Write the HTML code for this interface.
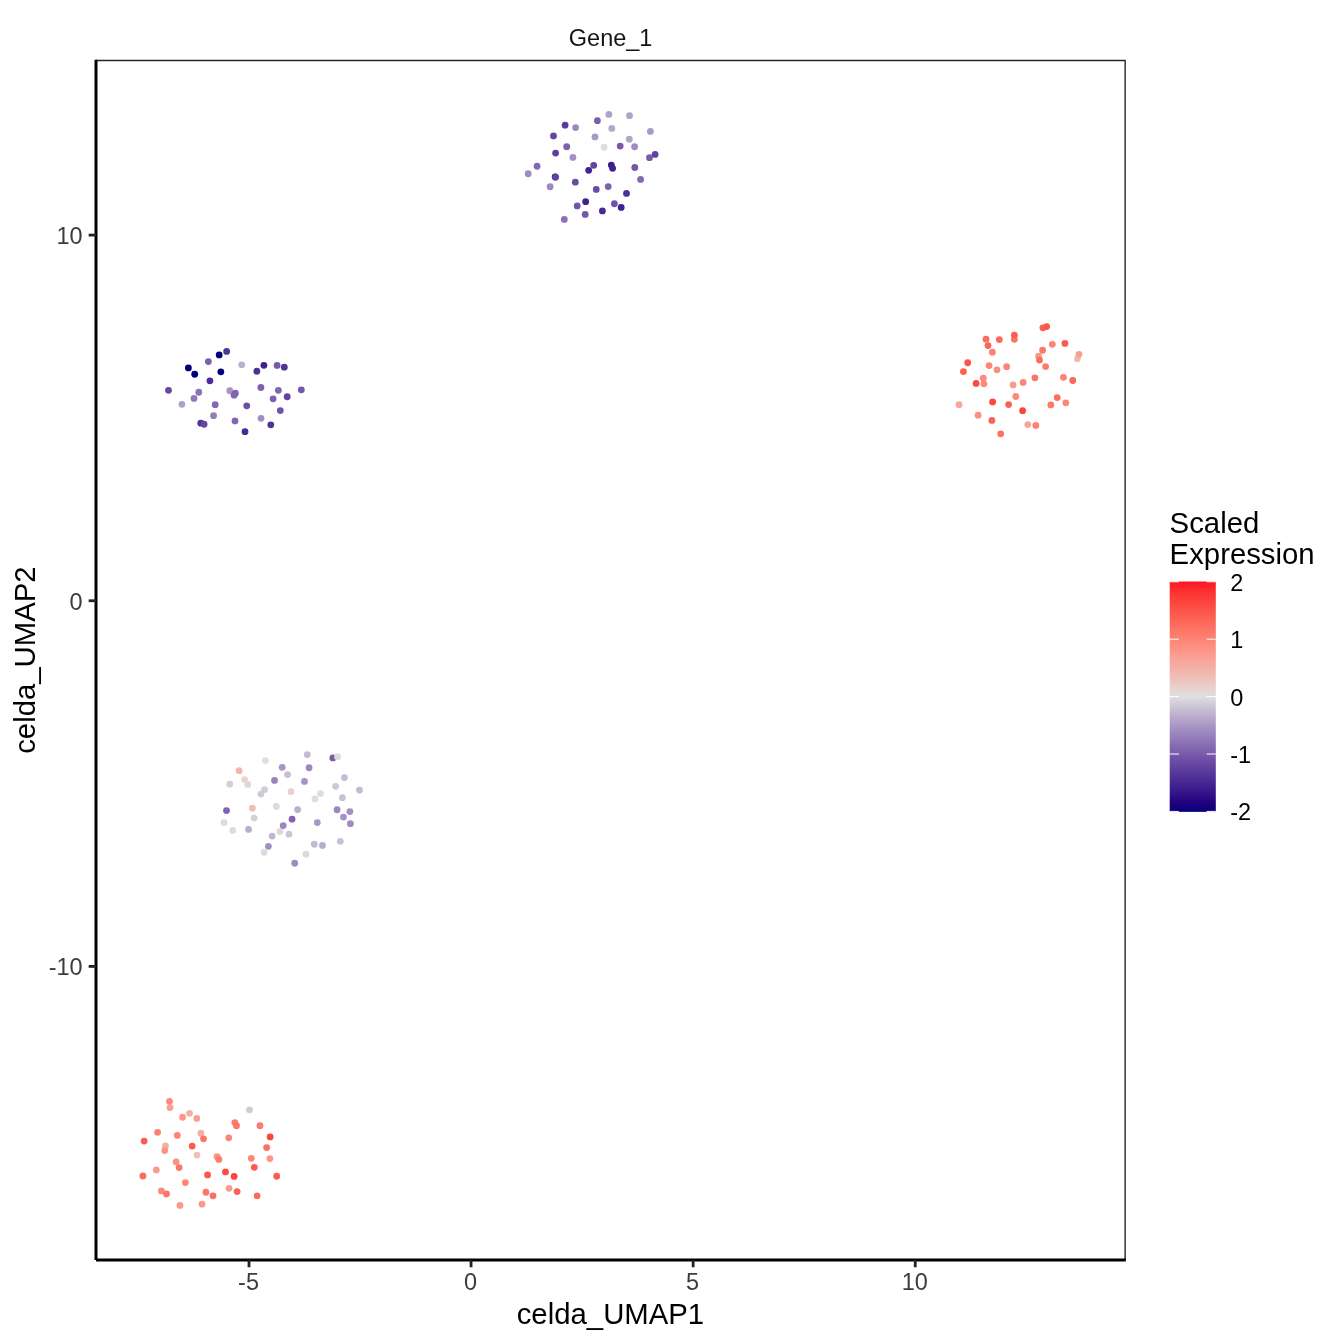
<!DOCTYPE html>
<html><head><meta charset="utf-8"><title>Gene_1</title>
<style>
html,body{margin:0;padding:0;background:#fff;overflow:hidden;width:1344px;height:1344px;}
svg{display:block;will-change:transform;}
text{font-family:"Liberation Sans",sans-serif;}
</style></head>
<body>
<svg width="1344" height="1344" viewBox="0 0 1344 1344">
<rect x="0" y="0" width="1344" height="1344" fill="#ffffff"/>
<defs>
<linearGradient id="cb" x1="0" y1="0" x2="0" y2="1">
<stop offset="0.0000" stop-color="#FC1425"/>
<stop offset="0.0125" stop-color="#FC1D28"/>
<stop offset="0.0250" stop-color="#FC262C"/>
<stop offset="0.0375" stop-color="#FC2C2F"/>
<stop offset="0.0500" stop-color="#FC3433"/>
<stop offset="0.0625" stop-color="#FC3A36"/>
<stop offset="0.0750" stop-color="#FC3F3A"/>
<stop offset="0.0875" stop-color="#FC443E"/>
<stop offset="0.1000" stop-color="#FC4A41"/>
<stop offset="0.1125" stop-color="#FC5045"/>
<stop offset="0.1250" stop-color="#FC5449"/>
<stop offset="0.1375" stop-color="#FC594D"/>
<stop offset="0.1500" stop-color="#FC5E51"/>
<stop offset="0.1625" stop-color="#FC6256"/>
<stop offset="0.1750" stop-color="#FC6859"/>
<stop offset="0.1875" stop-color="#FC6C5E"/>
<stop offset="0.2000" stop-color="#FC7162"/>
<stop offset="0.2125" stop-color="#FC7666"/>
<stop offset="0.2250" stop-color="#FC7A6B"/>
<stop offset="0.2375" stop-color="#FD7F6F"/>
<stop offset="0.2500" stop-color="#FD8374"/>
<stop offset="0.2625" stop-color="#FD8879"/>
<stop offset="0.2750" stop-color="#FD8C7E"/>
<stop offset="0.2875" stop-color="#FC9183"/>
<stop offset="0.3000" stop-color="#FA9587"/>
<stop offset="0.3125" stop-color="#FA9A8D"/>
<stop offset="0.3250" stop-color="#F99F91"/>
<stop offset="0.3375" stop-color="#F8A397"/>
<stop offset="0.3500" stop-color="#F7A89C"/>
<stop offset="0.3625" stop-color="#F5ACA1"/>
<stop offset="0.3750" stop-color="#F3B0A6"/>
<stop offset="0.3875" stop-color="#F2B5AC"/>
<stop offset="0.4000" stop-color="#F0BAB2"/>
<stop offset="0.4125" stop-color="#EFBFB6"/>
<stop offset="0.4250" stop-color="#ECC2BC"/>
<stop offset="0.4375" stop-color="#EAC7C2"/>
<stop offset="0.4500" stop-color="#E9CCC8"/>
<stop offset="0.4625" stop-color="#E7D1CD"/>
<stop offset="0.4750" stop-color="#E4D6D3"/>
<stop offset="0.4875" stop-color="#E1DAD9"/>
<stop offset="0.5000" stop-color="#DFDFDF"/>
<stop offset="0.5125" stop-color="#DAD7DC"/>
<stop offset="0.5250" stop-color="#D4D0DA"/>
<stop offset="0.5375" stop-color="#CFC8D7"/>
<stop offset="0.5500" stop-color="#C9C1D5"/>
<stop offset="0.5625" stop-color="#C4BAD1"/>
<stop offset="0.5750" stop-color="#BFB3CF"/>
<stop offset="0.5875" stop-color="#B9ABCC"/>
<stop offset="0.6000" stop-color="#B5A4CA"/>
<stop offset="0.6125" stop-color="#AF9FC8"/>
<stop offset="0.6250" stop-color="#AA98C5"/>
<stop offset="0.6375" stop-color="#A491C2"/>
<stop offset="0.6500" stop-color="#A08ABF"/>
<stop offset="0.6625" stop-color="#9A84BD"/>
<stop offset="0.6750" stop-color="#967EBB"/>
<stop offset="0.6875" stop-color="#9077B8"/>
<stop offset="0.7000" stop-color="#8C72B5"/>
<stop offset="0.7125" stop-color="#866BB3"/>
<stop offset="0.7250" stop-color="#8165B0"/>
<stop offset="0.7375" stop-color="#7D60AE"/>
<stop offset="0.7500" stop-color="#775AAA"/>
<stop offset="0.7625" stop-color="#7255A8"/>
<stop offset="0.7750" stop-color="#6D4EA6"/>
<stop offset="0.7875" stop-color="#6949A4"/>
<stop offset="0.8000" stop-color="#6445A0"/>
<stop offset="0.8125" stop-color="#5F3F9E"/>
<stop offset="0.8250" stop-color="#5A3A9C"/>
<stop offset="0.8375" stop-color="#553598"/>
<stop offset="0.8500" stop-color="#4F3096"/>
<stop offset="0.8625" stop-color="#4B2B94"/>
<stop offset="0.8750" stop-color="#462791"/>
<stop offset="0.8875" stop-color="#41218E"/>
<stop offset="0.9000" stop-color="#3B1C8C"/>
<stop offset="0.9125" stop-color="#361789"/>
<stop offset="0.9250" stop-color="#311287"/>
<stop offset="0.9375" stop-color="#2B0C85"/>
<stop offset="0.9500" stop-color="#260581"/>
<stop offset="0.9625" stop-color="#1F007F"/>
<stop offset="0.9750" stop-color="#18007D"/>
<stop offset="0.9875" stop-color="#10007A"/>
<stop offset="1.0000" stop-color="#000078"/>
</linearGradient>
<clipPath id="pc"><rect x="96.00" y="59.78" width="1029.85" height="1200.14"/></clipPath>
</defs>
<text x="610.60" y="46" font-size="23.47" fill="#141414" text-anchor="middle">Gene_1</text>
<g id="pts">
<circle cx="565.10" cy="125.15" r="3.40" fill="#5A3A9C"/>
<circle cx="575.60" cy="127.55" r="3.40" fill="#9E88BE"/>
<circle cx="553.50" cy="135.95" r="3.40" fill="#6445A0"/>
<circle cx="566.70" cy="146.75" r="3.40" fill="#7D60AE"/>
<circle cx="555.60" cy="153.05" r="3.40" fill="#5F3F9E"/>
<circle cx="572.90" cy="157.45" r="3.40" fill="#A491C2"/>
<circle cx="537.10" cy="166.25" r="3.40" fill="#8469B1"/>
<circle cx="528.20" cy="173.75" r="3.40" fill="#A08ABF"/>
<circle cx="555.20" cy="176.85" r="3.40" fill="#1F007F"/>
<circle cx="555.50" cy="177.25" r="3.40" fill="#62429F"/>
<circle cx="588.70" cy="170.35" r="3.40" fill="#432491"/>
<circle cx="593.70" cy="165.35" r="3.40" fill="#62429F"/>
<circle cx="608.90" cy="114.45" r="3.40" fill="#B2A2C9"/>
<circle cx="629.50" cy="115.65" r="3.40" fill="#B2A2C9"/>
<circle cx="597.40" cy="120.65" r="3.40" fill="#7B5EAD"/>
<circle cx="611.80" cy="128.45" r="3.40" fill="#B6A8CB"/>
<circle cx="650.40" cy="131.40" r="3.40" fill="#AA98C5"/>
<circle cx="595.00" cy="136.95" r="3.40" fill="#AA98C5"/>
<circle cx="629.30" cy="139.25" r="3.40" fill="#B5A4CA"/>
<circle cx="604.10" cy="147.25" r="3.40" fill="#E0DCDB"/>
<circle cx="620.20" cy="146.10" r="3.40" fill="#7558A9"/>
<circle cx="634.60" cy="146.75" r="3.40" fill="#A08ABF"/>
<circle cx="649.50" cy="157.65" r="3.40" fill="#775AAA"/>
<circle cx="655.10" cy="154.45" r="3.40" fill="#62429F"/>
<circle cx="611.30" cy="165.05" r="3.40" fill="#3B1C8C"/>
<circle cx="612.60" cy="168.35" r="3.40" fill="#41218E"/>
<circle cx="634.80" cy="167.50" r="3.40" fill="#7457A9"/>
<circle cx="640.60" cy="179.45" r="3.40" fill="#8469B1"/>
<circle cx="550.10" cy="186.75" r="3.40" fill="#9E88BE"/>
<circle cx="575.30" cy="182.15" r="3.40" fill="#6B4CA5"/>
<circle cx="585.70" cy="201.65" r="3.40" fill="#41218E"/>
<circle cx="577.20" cy="205.95" r="3.40" fill="#7255A8"/>
<circle cx="585.20" cy="214.45" r="3.40" fill="#7558A9"/>
<circle cx="564.30" cy="219.45" r="3.40" fill="#8C72B5"/>
<circle cx="608.20" cy="186.55" r="3.40" fill="#7E62AF"/>
<circle cx="596.25" cy="189.45" r="3.40" fill="#6A4CA4"/>
<circle cx="626.50" cy="193.45" r="3.40" fill="#4F3096"/>
<circle cx="614.40" cy="203.75" r="3.40" fill="#7255A8"/>
<circle cx="621.20" cy="207.45" r="3.40" fill="#41218E"/>
<circle cx="602.40" cy="210.95" r="3.40" fill="#492993"/>
<circle cx="226.65" cy="351.45" r="3.40" fill="#513297"/>
<circle cx="219.20" cy="354.95" r="3.40" fill="#000078"/>
<circle cx="208.35" cy="361.60" r="3.40" fill="#7C5FAD"/>
<circle cx="241.70" cy="364.85" r="3.40" fill="#BCAFCE"/>
<circle cx="188.40" cy="367.95" r="3.40" fill="#000078"/>
<circle cx="194.70" cy="374.25" r="3.40" fill="#000078"/>
<circle cx="220.85" cy="371.85" r="3.40" fill="#000078"/>
<circle cx="209.90" cy="380.80" r="3.40" fill="#4D2D95"/>
<circle cx="256.85" cy="371.25" r="3.40" fill="#4F3096"/>
<circle cx="168.50" cy="390.35" r="3.40" fill="#6748A2"/>
<circle cx="198.80" cy="392.25" r="3.40" fill="#8C72B5"/>
<circle cx="194.00" cy="398.45" r="3.40" fill="#9178B8"/>
<circle cx="229.80" cy="390.75" r="3.40" fill="#A895C4"/>
<circle cx="234.10" cy="395.15" r="3.40" fill="#8165B0"/>
<circle cx="235.40" cy="393.15" r="3.40" fill="#8165B0"/>
<circle cx="181.90" cy="404.35" r="3.40" fill="#AF9FC8"/>
<circle cx="215.20" cy="404.65" r="3.40" fill="#8469B1"/>
<circle cx="246.75" cy="405.85" r="3.40" fill="#6D4EA6"/>
<circle cx="213.55" cy="415.65" r="3.40" fill="#957DBA"/>
<circle cx="235.00" cy="420.90" r="3.40" fill="#8267B0"/>
<circle cx="200.75" cy="423.15" r="3.40" fill="#533297"/>
<circle cx="204.10" cy="424.25" r="3.40" fill="#6445A0"/>
<circle cx="245.00" cy="431.65" r="3.40" fill="#4A2A93"/>
<circle cx="263.90" cy="365.35" r="3.40" fill="#3F1F8D"/>
<circle cx="277.10" cy="365.45" r="3.40" fill="#7558A9"/>
<circle cx="284.30" cy="367.15" r="3.40" fill="#533297"/>
<circle cx="260.90" cy="387.50" r="3.40" fill="#7D60AE"/>
<circle cx="278.35" cy="390.35" r="3.40" fill="#8267B0"/>
<circle cx="301.30" cy="389.85" r="3.40" fill="#7457A9"/>
<circle cx="287.20" cy="396.75" r="3.40" fill="#6445A0"/>
<circle cx="273.10" cy="398.80" r="3.40" fill="#7E61AE"/>
<circle cx="280.30" cy="410.55" r="3.40" fill="#7053A7"/>
<circle cx="261.00" cy="418.30" r="3.40" fill="#A28FC1"/>
<circle cx="270.80" cy="424.85" r="3.40" fill="#513297"/>
<circle cx="1042.90" cy="327.85" r="3.40" fill="#FC5E51"/>
<circle cx="1046.65" cy="326.55" r="3.40" fill="#FC564A"/>
<circle cx="1014.40" cy="339.35" r="3.40" fill="#FC7465"/>
<circle cx="1014.40" cy="335.15" r="3.40" fill="#FC5E51"/>
<circle cx="986.00" cy="339.20" r="3.40" fill="#FC6E5F"/>
<circle cx="988.00" cy="345.55" r="3.40" fill="#FC6657"/>
<circle cx="999.30" cy="339.55" r="3.40" fill="#FC695B"/>
<circle cx="992.40" cy="352.25" r="3.40" fill="#FD8374"/>
<circle cx="1042.60" cy="350.25" r="3.40" fill="#FC7A6B"/>
<circle cx="1038.60" cy="356.25" r="3.40" fill="#FA9587"/>
<circle cx="1039.50" cy="360.05" r="3.40" fill="#FC6E5F"/>
<circle cx="1045.60" cy="366.55" r="3.40" fill="#FC7D6E"/>
<circle cx="967.70" cy="362.75" r="3.40" fill="#FC564A"/>
<circle cx="963.40" cy="371.55" r="3.40" fill="#FC6054"/>
<circle cx="989.10" cy="365.55" r="3.40" fill="#FD8677"/>
<circle cx="997.00" cy="369.85" r="3.40" fill="#FD8D7F"/>
<circle cx="1006.60" cy="366.70" r="3.40" fill="#FD8374"/>
<circle cx="983.30" cy="378.25" r="3.40" fill="#FD8B7D"/>
<circle cx="983.90" cy="383.85" r="3.40" fill="#FD8A7C"/>
<circle cx="976.10" cy="383.40" r="3.40" fill="#FC4A41"/>
<circle cx="1034.90" cy="377.85" r="3.40" fill="#FC7667"/>
<circle cx="1023.15" cy="382.45" r="3.40" fill="#FD8779"/>
<circle cx="1013.10" cy="384.95" r="3.40" fill="#F99C90"/>
<circle cx="1015.80" cy="396.50" r="3.40" fill="#FD8A7B"/>
<circle cx="992.60" cy="401.95" r="3.40" fill="#FC483F"/>
<circle cx="1008.60" cy="404.55" r="3.40" fill="#FC6155"/>
<circle cx="959.00" cy="404.75" r="3.40" fill="#F7A69A"/>
<circle cx="1022.60" cy="410.70" r="3.40" fill="#FC433D"/>
<circle cx="978.10" cy="415.15" r="3.40" fill="#FB8F81"/>
<circle cx="991.90" cy="420.45" r="3.40" fill="#FC6155"/>
<circle cx="1052.30" cy="344.35" r="3.40" fill="#FD8475"/>
<circle cx="1064.95" cy="343.45" r="3.40" fill="#FC5A4E"/>
<circle cx="1077.40" cy="358.70" r="3.40" fill="#F0BAB2"/>
<circle cx="1079.00" cy="354.35" r="3.40" fill="#F99F91"/>
<circle cx="1063.40" cy="377.30" r="3.40" fill="#FD8172"/>
<circle cx="1072.80" cy="380.50" r="3.40" fill="#FC685A"/>
<circle cx="1057.20" cy="397.55" r="3.40" fill="#FC6E5F"/>
<circle cx="1065.80" cy="402.85" r="3.40" fill="#FD8779"/>
<circle cx="1050.80" cy="404.95" r="3.40" fill="#FC7A6B"/>
<circle cx="1027.80" cy="424.55" r="3.40" fill="#F7A69A"/>
<circle cx="1035.80" cy="425.45" r="3.40" fill="#FD8172"/>
<circle cx="1000.70" cy="433.85" r="3.40" fill="#FC7162"/>
<circle cx="307.25" cy="754.60" r="3.40" fill="#C4BAD1"/>
<circle cx="265.45" cy="760.55" r="3.40" fill="#E0DDDC"/>
<circle cx="282.20" cy="767.35" r="3.40" fill="#A895C4"/>
<circle cx="309.05" cy="767.75" r="3.40" fill="#9C87BE"/>
<circle cx="239.10" cy="770.65" r="3.40" fill="#F1B7AF"/>
<circle cx="287.55" cy="774.55" r="3.40" fill="#C8BFD4"/>
<circle cx="244.55" cy="779.55" r="3.40" fill="#E3D7D5"/>
<circle cx="247.80" cy="784.45" r="3.40" fill="#E3D6D4"/>
<circle cx="274.50" cy="780.45" r="3.40" fill="#9982BD"/>
<circle cx="304.50" cy="781.45" r="3.40" fill="#A793C3"/>
<circle cx="229.80" cy="784.15" r="3.40" fill="#D4D0DA"/>
<circle cx="264.60" cy="789.55" r="3.40" fill="#D1CBD7"/>
<circle cx="260.90" cy="794.05" r="3.40" fill="#CFC8D7"/>
<circle cx="291.00" cy="791.65" r="3.40" fill="#E6D2CF"/>
<circle cx="315.00" cy="798.95" r="3.40" fill="#E1DBDA"/>
<circle cx="276.30" cy="806.45" r="3.40" fill="#DBDADD"/>
<circle cx="252.40" cy="808.25" r="3.40" fill="#EFBFB6"/>
<circle cx="226.50" cy="810.55" r="3.40" fill="#7F63AF"/>
<circle cx="297.65" cy="809.55" r="3.40" fill="#BCAFCE"/>
<circle cx="254.10" cy="818.05" r="3.40" fill="#D2CFD9"/>
<circle cx="292.05" cy="819.20" r="3.40" fill="#8064AF"/>
<circle cx="224.00" cy="822.55" r="3.40" fill="#E1DAD9"/>
<circle cx="279.90" cy="831.40" r="3.40" fill="#E3D7D5"/>
<circle cx="283.20" cy="825.55" r="3.40" fill="#9C87BE"/>
<circle cx="232.80" cy="830.45" r="3.40" fill="#DCDCDD"/>
<circle cx="248.50" cy="829.45" r="3.40" fill="#BAADCC"/>
<circle cx="289.05" cy="834.15" r="3.40" fill="#CCC6D6"/>
<circle cx="272.10" cy="836.05" r="3.40" fill="#C2B7D1"/>
<circle cx="332.90" cy="757.95" r="3.40" fill="#775AAA"/>
<circle cx="337.50" cy="756.65" r="3.40" fill="#E1DAD9"/>
<circle cx="344.40" cy="777.55" r="3.40" fill="#C5BBD2"/>
<circle cx="335.60" cy="786.30" r="3.40" fill="#CEC7D6"/>
<circle cx="359.50" cy="790.05" r="3.40" fill="#C3B9D1"/>
<circle cx="320.50" cy="793.55" r="3.40" fill="#E1DBDA"/>
<circle cx="342.40" cy="797.65" r="3.40" fill="#C9C0D4"/>
<circle cx="337.05" cy="809.75" r="3.40" fill="#9C87BE"/>
<circle cx="349.90" cy="811.55" r="3.40" fill="#A390C2"/>
<circle cx="343.45" cy="817.10" r="3.40" fill="#A692C3"/>
<circle cx="350.40" cy="823.65" r="3.40" fill="#A18BC1"/>
<circle cx="317.30" cy="822.55" r="3.40" fill="#AA98C5"/>
<circle cx="340.35" cy="841.30" r="3.40" fill="#C8BFD4"/>
<circle cx="264.00" cy="852.35" r="3.40" fill="#DBDADD"/>
<circle cx="268.40" cy="846.35" r="3.40" fill="#A390C2"/>
<circle cx="314.30" cy="844.25" r="3.40" fill="#C3B9D1"/>
<circle cx="322.50" cy="845.45" r="3.40" fill="#B8AACC"/>
<circle cx="306.00" cy="854.15" r="3.40" fill="#DBDADD"/>
<circle cx="294.70" cy="863.25" r="3.40" fill="#9F89BF"/>
<circle cx="170.00" cy="1107.55" r="3.40" fill="#F8A093"/>
<circle cx="169.50" cy="1101.30" r="3.40" fill="#FD8A7C"/>
<circle cx="189.55" cy="1113.35" r="3.40" fill="#F3B0A6"/>
<circle cx="182.55" cy="1117.25" r="3.40" fill="#FA9788"/>
<circle cx="196.80" cy="1118.45" r="3.40" fill="#F99F91"/>
<circle cx="157.60" cy="1132.35" r="3.40" fill="#FD8172"/>
<circle cx="177.30" cy="1135.45" r="3.40" fill="#FD8374"/>
<circle cx="200.90" cy="1133.25" r="3.40" fill="#F3B0A6"/>
<circle cx="203.50" cy="1138.85" r="3.40" fill="#FC7666"/>
<circle cx="228.75" cy="1137.85" r="3.40" fill="#FD8676"/>
<circle cx="144.10" cy="1141.05" r="3.40" fill="#FC5B4F"/>
<circle cx="165.50" cy="1145.85" r="3.40" fill="#F3B0A6"/>
<circle cx="164.70" cy="1150.55" r="3.40" fill="#FC9384"/>
<circle cx="192.15" cy="1146.05" r="3.40" fill="#FC5C50"/>
<circle cx="197.00" cy="1155.10" r="3.40" fill="#EEC1BA"/>
<circle cx="217.05" cy="1156.75" r="3.40" fill="#FC9384"/>
<circle cx="218.80" cy="1159.45" r="3.40" fill="#FC7D6E"/>
<circle cx="176.15" cy="1161.95" r="3.40" fill="#FC9183"/>
<circle cx="179.10" cy="1167.55" r="3.40" fill="#FC7667"/>
<circle cx="156.30" cy="1169.90" r="3.40" fill="#FA9A8D"/>
<circle cx="142.90" cy="1176.00" r="3.40" fill="#FC6C5E"/>
<circle cx="207.55" cy="1174.90" r="3.40" fill="#FC564A"/>
<circle cx="225.50" cy="1171.95" r="3.40" fill="#FC4D44"/>
<circle cx="234.15" cy="1176.45" r="3.40" fill="#FC453F"/>
<circle cx="185.40" cy="1182.55" r="3.40" fill="#FD8677"/>
<circle cx="229.00" cy="1188.30" r="3.40" fill="#F99B8F"/>
<circle cx="161.40" cy="1190.95" r="3.40" fill="#FD8B7D"/>
<circle cx="166.50" cy="1193.95" r="3.40" fill="#FC7667"/>
<circle cx="205.95" cy="1192.25" r="3.40" fill="#FC7768"/>
<circle cx="213.00" cy="1195.85" r="3.40" fill="#FC6E5F"/>
<circle cx="179.95" cy="1205.45" r="3.40" fill="#FA9A8D"/>
<circle cx="202.00" cy="1204.15" r="3.40" fill="#FA9A8D"/>
<circle cx="249.50" cy="1109.85" r="3.40" fill="#D0CAD7"/>
<circle cx="234.80" cy="1122.55" r="3.40" fill="#FC7A6B"/>
<circle cx="236.50" cy="1125.65" r="3.40" fill="#FC7667"/>
<circle cx="259.95" cy="1125.65" r="3.40" fill="#FC7B6D"/>
<circle cx="270.15" cy="1136.95" r="3.40" fill="#FC453F"/>
<circle cx="266.65" cy="1147.55" r="3.40" fill="#FC6E5F"/>
<circle cx="251.30" cy="1158.35" r="3.40" fill="#FD8677"/>
<circle cx="269.85" cy="1158.55" r="3.40" fill="#FA9587"/>
<circle cx="254.30" cy="1167.30" r="3.40" fill="#FC5B4F"/>
<circle cx="276.70" cy="1176.25" r="3.40" fill="#FC5B4F"/>
<circle cx="237.10" cy="1191.55" r="3.40" fill="#FC6155"/>
<circle cx="257.10" cy="1195.85" r="3.40" fill="#FC6C5E"/>
</g>
<path d="M96.00 59.78H1125.85V1259.92" fill="none" stroke="#262626" stroke-width="2.80" clip-path="url(#pc)"/>
<line x1="96.00" y1="59.78" x2="96.00" y2="1259.92" stroke="#000" stroke-width="3.00"/>
<line x1="96.00" y1="1259.92" x2="1125.85" y2="1259.92" stroke="#000" stroke-width="3.00"/>
<line x1="88.67" y1="235.10" x2="96.00" y2="235.10" stroke="#222222" stroke-width="2.80"/>
<text x="82.55" y="244" font-size="23.47" fill="#3C3C3C" text-anchor="end">10</text>
<line x1="88.67" y1="600.75" x2="96.00" y2="600.75" stroke="#222222" stroke-width="2.80"/>
<text x="82.55" y="610" font-size="23.47" fill="#3C3C3C" text-anchor="end">0</text>
<line x1="88.67" y1="966.40" x2="96.00" y2="966.40" stroke="#222222" stroke-width="2.80"/>
<text x="82.55" y="975" font-size="23.47" fill="#3C3C3C" text-anchor="end">-10</text>
<line x1="249.00" y1="1259.92" x2="249.00" y2="1267.25" stroke="#222222" stroke-width="2.80"/>
<text x="248.50" y="1290" font-size="23.47" fill="#3C3C3C" text-anchor="middle">-5</text>
<line x1="471.05" y1="1259.92" x2="471.05" y2="1267.25" stroke="#222222" stroke-width="2.80"/>
<text x="470.55" y="1290" font-size="23.47" fill="#3C3C3C" text-anchor="middle">0</text>
<line x1="693.15" y1="1259.92" x2="693.15" y2="1267.25" stroke="#222222" stroke-width="2.80"/>
<text x="692.65" y="1290" font-size="23.47" fill="#3C3C3C" text-anchor="middle">5</text>
<line x1="915.25" y1="1259.92" x2="915.25" y2="1267.25" stroke="#222222" stroke-width="2.80"/>
<text x="914.75" y="1290" font-size="23.47" fill="#3C3C3C" text-anchor="middle">10</text>
<text x="610.45" y="1324" font-size="29.33" fill="#000" text-anchor="middle">celda_UMAP1</text>
<text transform="translate(35.3 660.10) rotate(-90)" font-size="29.33" fill="#000" text-anchor="middle">celda_UMAP2</text>
<text x="1169.6" y="533" font-size="29.33" fill="#000">Scaled</text>
<text x="1169.6" y="564" font-size="29.33" fill="#000">Expression</text>
<rect x="1169.70" y="581.50" width="46.10" height="230.35" fill="url(#cb)"/>
<line x1="1169.70" y1="581.75" x2="1178.92" y2="581.75" stroke="#fff" stroke-width="1"/>
<line x1="1206.58" y1="581.75" x2="1215.80" y2="581.75" stroke="#fff" stroke-width="1"/>
<text x="1230.2" y="591" font-size="23.47" fill="#000">2</text>
<line x1="1169.70" y1="639.20" x2="1178.92" y2="639.20" stroke="#fff" stroke-width="1"/>
<line x1="1206.58" y1="639.20" x2="1215.80" y2="639.20" stroke="#fff" stroke-width="1"/>
<text x="1230.2" y="648" font-size="23.47" fill="#000">1</text>
<line x1="1169.70" y1="696.60" x2="1178.92" y2="696.60" stroke="#fff" stroke-width="1"/>
<line x1="1206.58" y1="696.60" x2="1215.80" y2="696.60" stroke="#fff" stroke-width="1"/>
<text x="1230.2" y="706" font-size="23.47" fill="#000">0</text>
<line x1="1169.70" y1="754.00" x2="1178.92" y2="754.00" stroke="#fff" stroke-width="1"/>
<line x1="1206.58" y1="754.00" x2="1215.80" y2="754.00" stroke="#fff" stroke-width="1"/>
<text x="1230.2" y="763" font-size="23.47" fill="#000">-1</text>
<line x1="1169.70" y1="811.40" x2="1178.92" y2="811.40" stroke="#fff" stroke-width="1"/>
<line x1="1206.58" y1="811.40" x2="1215.80" y2="811.40" stroke="#fff" stroke-width="1"/>
<text x="1230.2" y="820" font-size="23.47" fill="#000">-2</text>
</svg>
</body></html>
